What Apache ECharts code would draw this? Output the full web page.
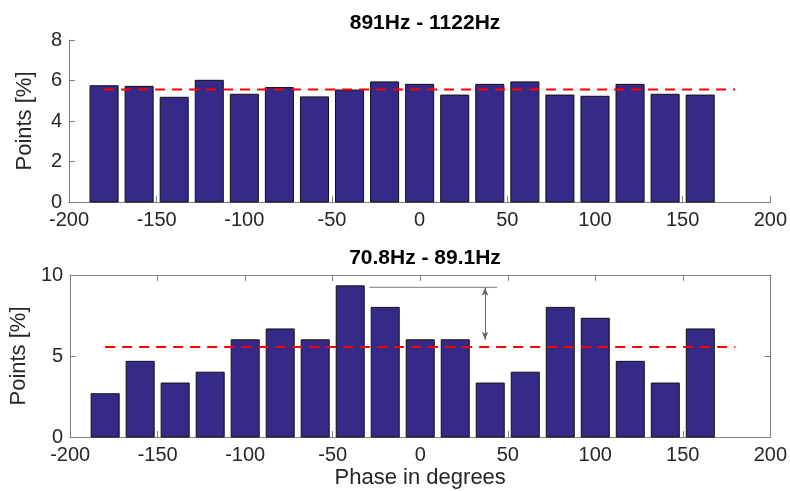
<!DOCTYPE html>
<html>
<head>
<meta charset="utf-8">
<script src="https://cdn.jsdelivr.net/npm/echarts@6/dist/echarts.min.js"></script>
<style>
html,body{margin:0;padding:0;background:#fff;}
#chart{width:790px;height:491px;}
</style>
</head>
<body>
<div id="chart"></div>
<script>
// ---- data ----
const phaseCenters = [-180,-160,-140,-120,-100,-80,-60,-40,-20,0,20,40,60,80,100,120,140,160];
const topValues = [5.74,5.71,5.17,6.01,5.32,5.65,5.19,5.53,5.93,5.81,5.28,5.81,5.93,5.28,5.22,5.81,5.32,5.28];
const bottomValues = [2.67,4.67,3.33,4.00,6.00,6.67,6.00,9.33,8.00,6.00,6.00,3.33,4.00,8.00,7.33,4.67,3.33,6.67];
const uniformLevel = 5.56;
const uniformSpan = [-180, 180];
const binWidth = 16;
const titles = ['891Hz - 1122Hz', '70.8Hz - 89.1Hz'];
const xTicks = {min: -200, max: 200, interval: 50};
const topYTicks = {min: 0, max: 8, interval: 2};
const bottomYTicks = {min: 0, max: 10, interval: 5};
const annoLine = [[-29, 9.24], [44, 9.24]];
const annoArrow = [[37, 9.22], [37, 6.0]];

const FONT = '"Liberation Sans", Arial, Helvetica, sans-serif';
const BAR = '#352a87';
const AXIS = '#808080';
const TXT = '#262626';

const chart = echarts.init(document.getElementById('chart'), null, {renderer: 'canvas'});

function barSeries(values, xi, yi) {
  return {
    type: 'custom',
    xAxisIndex: xi, yAxisIndex: yi,
    data: phaseCenters.map((p, i) => [p, values[i]]),
    renderItem: function (params, api) {
      const x = api.value(0), y = api.value(1);
      const p0 = api.coord([x - binWidth / 2, 0]);
      const p1 = api.coord([x + binWidth / 2, y]);
      return {
        type: 'rect',
        shape: {x: p0[0], y: p1[1], width: p1[0] - p0[0], height: p0[1] - p1[1]},
        style: {fill: BAR, stroke: '#111', lineWidth: 1}
      };
    },
    z: 2
  };
}
function meanSeries(xi, yi) {
  return {
    type: 'line', xAxisIndex: xi, yAxisIndex: yi,
    data: uniformSpan.map(x => [x, uniformLevel]),
    symbol: 'none', silent: true,
    lineStyle: {color: '#ff0000', width: 2, type: [10, 7]},
    z: 3
  };
}
function xAx(grid, pos, labels, name) {
  return {
    type: 'value', gridIndex: grid, position: pos,
    min: xTicks.min, max: xTicks.max, interval: xTicks.interval,
    axisLine: {show: true, onZero: false, lineStyle: {color: AXIS, width: 1}},
    axisTick: {show: true, inside: true, length: 6, lineStyle: {color: AXIS}},
    axisLabel: {show: labels, color: TXT, fontSize: 20, fontFamily: FONT, margin: 8},
    splitLine: {show: false},
    name: name || '', nameLocation: 'middle', nameGap: 30,
    nameTextStyle: {color: TXT, fontSize: 22, fontFamily: FONT}
  };
}
function yAx(grid, pos, t, labels, name) {
  return {
    type: 'value', gridIndex: grid, position: pos,
    min: t.min, max: t.max, interval: t.interval,
    axisLine: {show: true, onZero: false, lineStyle: {color: AXIS, width: 1}},
    axisTick: {show: true, inside: true, length: 6, lineStyle: {color: AXIS}},
    axisLabel: {show: labels, color: TXT, fontSize: 20, fontFamily: FONT, margin: 7},
    splitLine: {show: false},
    name: name || '', nameLocation: 'middle', nameGap: 33,
    nameTextStyle: {color: TXT, fontSize: 22, fontFamily: FONT}
  };
}

const option = {
  backgroundColor: '#ffffff',
  animation: false,
  title: [
    {text: titles[0], left: 420, top: 8, textAlign: 'center',
     textStyle: {fontSize: 21, fontWeight: 'bold', color: '#000', fontFamily: FONT}},
    {text: titles[1], left: 420, top: 243, textAlign: 'center',
     textStyle: {fontSize: 21, fontWeight: 'bold', color: '#000', fontFamily: FONT}}
  ],
  grid: [
    {left: 69, right: 18, top: 40, height: 162},
    {left: 69, right: 18, top: 275, height: 162}
  ],
  xAxis: [
    xAx(0, 'bottom', true),
    xAx(1, 'bottom', true, 'Phase in degrees'),
    xAx(1, 'top', false)
  ],
  yAxis: [
    yAx(0, 'left', topYTicks, true, 'Points [%]'),
    yAx(1, 'left', bottomYTicks, true, 'Points [%]'),
    yAx(1, 'right', bottomYTicks, false)
  ],
  series: [
    barSeries(topValues, 0, 0),
    meanSeries(0, 0),
    barSeries(bottomValues, 1, 1),
    meanSeries(1, 1),
    {
      type: 'line', xAxisIndex: 1, yAxisIndex: 1,
      data: annoLine, symbol: 'none', silent: true,
      lineStyle: {color: '#7a7a7a', width: 1}, z: 4
    },
    {
      type: 'line', xAxisIndex: 1, yAxisIndex: 1,
      data: [], silent: true,
      markLine: {
        silent: true, animation: false,
        symbol: ['arrow', 'arrow'], symbolSize: [5, 8],
        label: {show: false},
        lineStyle: {color: '#666', width: 1, type: 'solid'},
        itemStyle: {color: '#000'},
        data: [[{coord: annoArrow[0]}, {coord: annoArrow[1]}]]
      },
      z: 4
    }
  ]
};
chart.setOption(option);
</script>
</body>
</html>
